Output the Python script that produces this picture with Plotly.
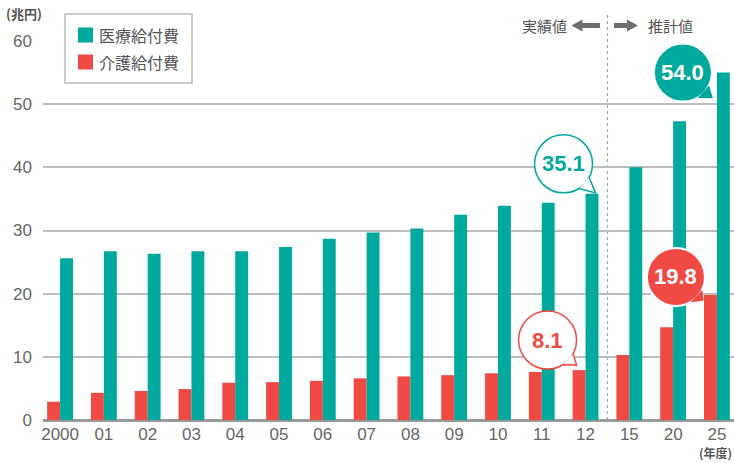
import math
import plotly.graph_objects as go

years = ["2000", "01", "02", "03", "04", "05", "06", "07", "08", "09", "10", "11", "12", "15", "20", "25"]
medical = [25.6, 26.7, 26.3, 26.7, 26.7, 27.4, 28.7, 29.7, 30.3, 32.5, 33.9, 34.4, 35.8, 40.0, 47.3, 55.0]
care = [2.9, 4.3, 4.6, 4.9, 5.9, 6.0, 6.2, 6.6, 6.9, 7.1, 7.4, 7.6, 7.9, 10.3, 14.7, 19.8]
y_ticks = [0, 10, 20, 30, 40, 50, 60]
name_medical = "医療給付費"
name_care = "介護給付費"
callouts = [
    # (category, series value, label, filled, colour key)
    ("12", 35.8, "35.1", False, "teal"),
    ("25", 55.0, "54.0", True, "teal"),
    ("12", 7.9, "8.1", False, "red"),
    ("25", 19.8, "19.8", True, "red"),
]

TEAL = "#00A99D"
RED = "#EF4A43"
COL = {"teal": TEAL, "red": RED}
JP = "Noto Sans CJK JP"
NUM = "Liberation Sans"

fig = go.Figure()
fig.add_trace(go.Bar(x=years, y=care, name=name_care, marker_color=RED, marker_line_width=0))
fig.add_trace(go.Bar(x=years, y=medical, name=name_medical, marker_color=TEAL, marker_line_width=0))

shapes = []
annotations = []

# bubble geometry offsets (pixels, relative to category centre / bar top)
geo = {
    "35.1": dict(dx=-22, dy=30, r=29, tx=10, ty=1),
    "54.0": dict(dx=-34, dy=0, r=29, tx=-5, ty=-25),
    "8.1": dict(dx=-38, dy=30, r=29, tx=-9, ty=5),
    "19.8": dict(dx=-41, dy=18, r=29, tx=-14, ty=-5),
}
for cat, val, label, filled, ck in callouts:
    xi = years.index(cat)
    g = geo[label]
    c = COL[ck]
    fill = c if filled else "white"
    line_c = "white" if filled else c
    cx, cy, r = g["dx"], g["dy"], g["r"]
    a1, a2 = math.radians(-28), math.radians(-58)
    p1 = (cx + r * math.cos(a1), cy + r * math.sin(a1))
    p2 = (cx + r * math.cos(a2), cy + r * math.sin(a2))
    tail = f"M{p1[0]:.1f},{p1[1]:.1f} L{g['tx']},{g['ty']} L{p2[0]:.1f},{p2[1]:.1f}"
    shapes.append(dict(type="circle", xref="x", yref="y", xsizemode="pixel", ysizemode="pixel",
                       xanchor=xi, yanchor=val, x0=cx - r, x1=cx + r, y0=cy - r, y1=cy + r,
                       fillcolor=fill, line=dict(color=line_c, width=1.5 if not filled else 2), layer="above"))
    shapes.append(dict(type="path", xref="x", yref="y", xsizemode="pixel", ysizemode="pixel",
                       xanchor=xi, yanchor=val, path=tail,
                       fillcolor=fill, line=dict(color=line_c if not filled else fill, width=1.5), layer="above"))
    annotations.append(dict(x=xi, y=val, xref="x", yref="y", text=f"<b>{label}</b>", showarrow=False,
                            xshift=cx, yshift=cy, font=dict(family=NUM, size=22, color="white" if filled else c)))

# divider between actual and estimated
shapes.append(dict(type="line", xref="x", yref="paper", x0=12.5, x1=12.5, y0=0, y1=1.069,
                   line=dict(color="#aaaaaa", width=1.2, dash="3px,3px"), layer="below"))
arrow_l = "M-36,15.5 L-25,21.5 L-25,18 L-7.5,18 L-7.5,13 L-25,13 L-25,9.5 Z"
arrow_r = "M30.5,15.5 L19.5,21.5 L19.5,18 L6.5,18 L6.5,13 L19.5,13 L19.5,9.5 Z"
for p in (arrow_l, arrow_r):
    shapes.append(dict(type="path", xref="x", yref="paper", xsizemode="pixel", ysizemode="pixel",
                       xanchor=12.5, yanchor=1, path=p, fillcolor="#6d6d6d", line=dict(width=0)))
annotations.append(dict(x=12.5, y=1, xref="x", yref="paper", text="実績値", showarrow=False,
                        xanchor="right", yanchor="middle", xshift=-38, yshift=16,
                        font=dict(family=JP, size=15, color="#555555")))
annotations.append(dict(x=12.5, y=1, xref="x", yref="paper", text="推計値", showarrow=False,
                        xanchor="left", yanchor="middle", xshift=39, yshift=16,
                        font=dict(family=JP, size=15, color="#555555")))

# legend box (manual)
shapes.append(dict(type="rect", xref="paper", yref="paper", xsizemode="pixel", ysizemode="pixel",
                   xanchor=0, yanchor=1, x0=22, x1=149, y0=27, y1=-42,
                   fillcolor="white", line=dict(color="#bbbbbb", width=1.5), layer="above"))
for dy, c, nm in ((6, TEAL, name_medical), (-21, RED, name_care)):
    shapes.append(dict(type="rect", xref="paper", yref="paper", xsizemode="pixel", ysizemode="pixel",
                       xanchor=0, yanchor=1, x0=35, x1=50, y0=dy - 7.5, y1=dy + 7.5,
                       fillcolor=c, line=dict(width=0), layer="above"))
    annotations.append(dict(x=0, y=1, xref="paper", yref="paper", text=nm, showarrow=False,
                            xanchor="left", yanchor="middle", xshift=54, yshift=dy,
                            font=dict(family=JP, size=16, color="#555555")))

# unit labels
annotations.append(dict(x=0, y=1, xref="paper", yref="paper", text="<b>(兆円)</b>", showarrow=False,
                        xanchor="left", yanchor="middle", xshift=-39, yshift=28,
                        font=dict(family=JP, size=13, color="#555555")))
annotations.append(dict(x=1, y=0, xref="paper", yref="paper", text="<b>(年度)</b>", showarrow=False,
                        xanchor="right", yanchor="bottom", xshift=0, yshift=-43,
                        font=dict(family=JP, size=12, color="#555555")))

fig.update_layout(
    width=734, height=463,
    margin=dict(l=43, r=0, t=41, b=43),
    paper_bgcolor="white", plot_bgcolor="white",
    barmode="group", bargap=0.41, bargroupgap=0,
    showlegend=False,
    shapes=shapes, annotations=annotations,
    font=dict(family=NUM, color="#666666"),
)
fig.update_xaxes(type="category", range=[-0.39, 15.39], showgrid=False, showline=False,
                 ticks="", tickfont=dict(family=NUM, size=17, color="#666666"), ticklabelstandoff=2)
fig.update_yaxes(range=[0, 60], tickvals=y_ticks, showgrid=True, gridcolor="#bdbdbd", gridwidth=1.5,
                 zeroline=True, zerolinecolor="#999999", zerolinewidth=2.5, showline=False,
                 ticks="", tickfont=dict(family=NUM, size=17, color="#666666"), ticklabelstandoff=10)

fig.write_html("out.html", config={"displayModeBar": False},
               post_script="document.body.style.margin='0';document.body.style.overflow='hidden';")
